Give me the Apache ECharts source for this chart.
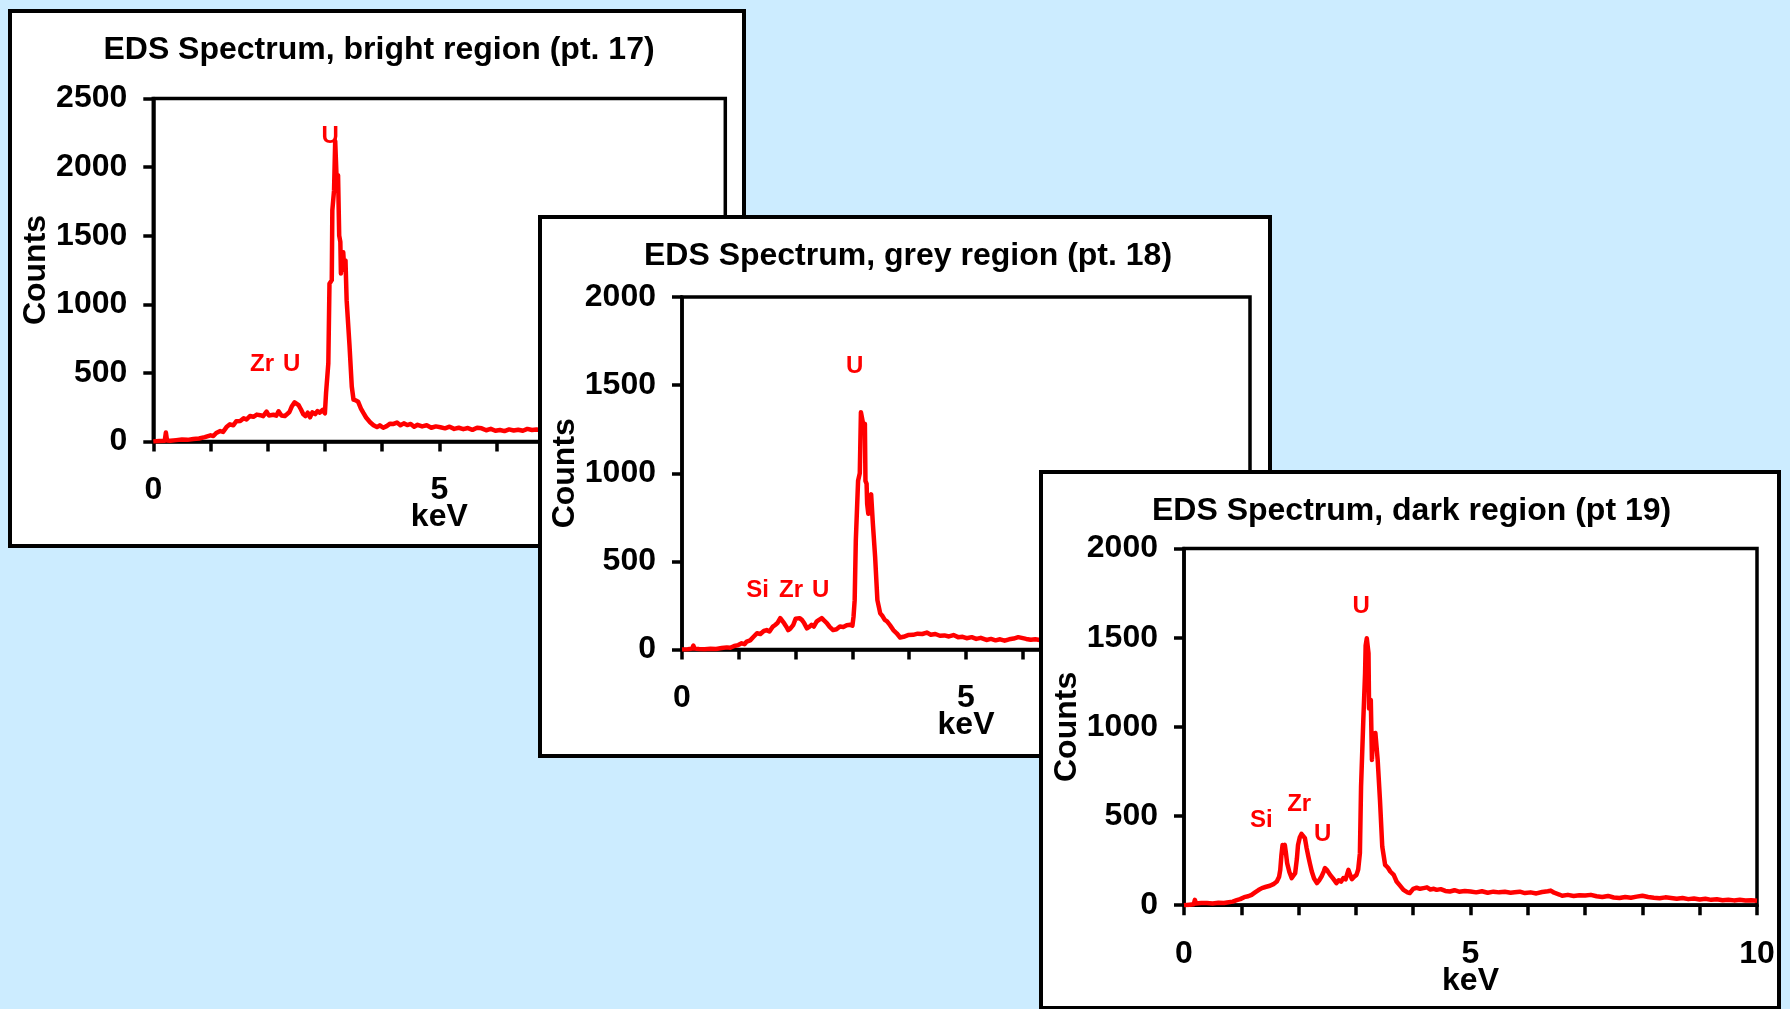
<!DOCTYPE html>
<html>
<head>
<meta charset="utf-8">
<script src="https://cdn.jsdelivr.net/npm/echarts@6/dist/echarts.min.js"></script>
<style>
  html, body { margin: 0; padding: 0; }
  body { width: 1790px; height: 1009px; background: #ccecff; position: relative; overflow: hidden; }
  .panel { position: absolute; box-sizing: border-box; border: 4px solid #000; background: #fff; }
  .chart { width: 100%; height: 100%; }
</style>
</head>
<body>
<div class="panel" style="left:8px;top:9px;width:738px;height:539px;z-index:1"><div id="bright" class="chart"></div></div>
<div class="panel" style="left:538px;top:215px;width:734px;height:543px;z-index:2"><div id="grey" class="chart"></div></div>
<div class="panel" style="left:1039px;top:470px;width:742px;height:540px;z-index:3"><div id="dark" class="chart"></div></div>
<script>
const FONT = '"Liberation Sans", Arial, sans-serif';
const RED = '#ff0000';

const titles = [
  'EDS Spectrum, bright region (pt. 17)',
  'EDS Spectrum, grey region (pt. 18)',
  'EDS Spectrum, dark region (pt 19)'
];
const keVMax = 10;
const keVTickStep = 1;
const keVLabelStep = 5;
const countStep = 500;
const countMax = [2500, 2000, 2000];

// [keV, counts]
const brightSpectrum = [
  [0, 0], [0.1, 3], [0.2, 5], [0.22, 65], [0.24, 8], [0.3, 6], [0.4, 10], [0.5, 14], [0.6, 12],
  [0.7, 18], [0.8, 22], [0.9, 32], [1.0, 45], [1.05, 40], [1.1, 62], [1.17, 76], [1.22, 70],
  [1.28, 105], [1.34, 125], [1.4, 118], [1.45, 148], [1.52, 150], [1.58, 170], [1.63, 160],
  [1.69, 186], [1.75, 180], [1.81, 196], [1.87, 192], [1.92, 185], [1.98, 218], [2.02, 190],
  [2.1, 195], [2.15, 188], [2.19, 220], [2.24, 190], [2.3, 185], [2.33, 178], [2.38, 215],
  [2.42, 255], [2.47, 285], [2.5, 292], [2.54, 265], [2.58, 235], [2.62, 200], [2.66, 185],
  [2.7, 210], [2.74, 176], [2.78, 212], [2.83, 200], [2.87, 222], [2.91, 210], [2.96, 230],
  [3.0, 205], [3.02, 352], [3.06, 570], [3.08, 1150], [3.12, 1176], [3.13, 1685], [3.16, 1830],
  [3.18, 2190], [3.2, 2185], [3.21, 1860], [3.23, 1940], [3.25, 1500], [3.27, 1455], [3.28, 1225],
  [3.3, 1300], [3.32, 1380], [3.34, 1250], [3.36, 1320], [3.38, 1030], [3.43, 700], [3.47, 400],
  [3.5, 305], [3.54, 300], [3.58, 290], [3.63, 240], [3.67, 210], [3.72, 175], [3.79, 140],
  [3.85, 118], [3.91, 105], [3.96, 118], [4.02, 100], [4.08, 112], [4.14, 130], [4.2, 128],
  [4.26, 138], [4.32, 118], [4.38, 132], [4.44, 120], [4.5, 128], [4.56, 108], [4.62, 122],
  [4.7, 110], [4.78, 118], [4.86, 100], [4.94, 110], [5.02, 104], [5.1, 96], [5.18, 108],
  [5.26, 92], [5.34, 100], [5.42, 90], [5.5, 98], [5.58, 85], [5.66, 100], [5.74, 96], [5.82, 82],
  [5.9, 92], [5.98, 78], [6.06, 84], [6.14, 76], [6.22, 88], [6.3, 80], [6.38, 86], [6.46, 78],
  [6.54, 92], [6.62, 84], [6.7, 88], [6.8, 80], [6.9, 85], [7.0, 78]
];

const greySpectrum = [
  [0, 0], [0.1, 2], [0.18, 5], [0.2, 22], [0.22, 5], [0.3, 3], [0.4, 2], [0.5, 4], [0.6, 3],
  [0.7, 8], [0.79, 12], [0.85, 10], [0.92, 20], [0.99, 25], [1.05, 35], [1.1, 30], [1.14, 45],
  [1.2, 52], [1.26, 72], [1.32, 92], [1.38, 88], [1.44, 105], [1.49, 110], [1.54, 102], [1.6, 130],
  [1.64, 139], [1.68, 150], [1.73, 178], [1.76, 165], [1.8, 148], [1.84, 128], [1.87, 110],
  [1.91, 120], [1.96, 140], [2.0, 175], [2.03, 183], [2.07, 178], [2.11, 168], [2.15, 150],
  [2.2, 120], [2.24, 128], [2.28, 140], [2.32, 130], [2.37, 158], [2.42, 170], [2.46, 178],
  [2.5, 165], [2.55, 150], [2.6, 128], [2.66, 110], [2.72, 115], [2.78, 130], [2.84, 128],
  [2.9, 138], [2.96, 140], [3.0, 135], [3.02, 186], [3.04, 280], [3.06, 617], [3.1, 957],
  [3.13, 1000], [3.15, 1346], [3.18, 1356], [3.2, 1262], [3.22, 1280], [3.23, 957], [3.25, 940],
  [3.26, 825], [3.28, 770], [3.3, 864], [3.33, 880], [3.35, 870], [3.36, 716], [3.4, 525],
  [3.44, 280], [3.49, 205], [3.53, 190], [3.57, 168], [3.61, 160], [3.66, 139], [3.72, 110],
  [3.78, 92], [3.84, 68], [3.9, 72], [3.98, 82], [4.07, 83], [4.15, 90], [4.23, 88], [4.31, 96],
  [4.38, 84], [4.46, 88], [4.54, 78], [4.62, 80], [4.7, 74], [4.78, 82], [4.86, 70], [4.94, 72],
  [5.01, 64], [5.1, 70], [5.18, 60], [5.26, 66], [5.36, 54], [5.44, 60], [5.52, 52], [5.6, 58],
  [5.68, 50], [5.76, 58], [5.84, 62], [5.92, 70], [5.98, 66], [6.06, 60], [6.14, 55], [6.22, 58],
  [6.3, 54], [6.4, 50], [6.5, 56], [6.6, 52]
];

const darkSpectrum = [
  [0, 0], [0.1, 3], [0.17, 5], [0.19, 30], [0.21, 10], [0.3, 12], [0.4, 12], [0.5, 10], [0.6, 14],
  [0.7, 12], [0.75, 15], [0.85, 20], [0.92, 28], [0.98, 34], [1.05, 45], [1.12, 50], [1.18, 58],
  [1.24, 72], [1.3, 85], [1.36, 96], [1.42, 102], [1.5, 109], [1.56, 118], [1.62, 133], [1.66, 160],
  [1.68, 198], [1.7, 280], [1.72, 338], [1.74, 320], [1.76, 338], [1.78, 290], [1.8, 236],
  [1.84, 185], [1.88, 152], [1.91, 160], [1.94, 180], [1.97, 260], [1.99, 338], [2.02, 380],
  [2.05, 400], [2.08, 395], [2.11, 376], [2.14, 320], [2.17, 273], [2.2, 230], [2.23, 189],
  [2.27, 150], [2.32, 124], [2.36, 140], [2.4, 161], [2.44, 190], [2.46, 208], [2.5, 195],
  [2.55, 170], [2.6, 150], [2.66, 124], [2.7, 140], [2.74, 132], [2.78, 152], [2.82, 145],
  [2.87, 198], [2.9, 170], [2.93, 146], [2.97, 160], [3.01, 170], [3.04, 200], [3.07, 292],
  [3.09, 665], [3.13, 1045], [3.16, 1300], [3.17, 1456], [3.19, 1497], [3.21, 1495], [3.22, 1413],
  [3.23, 1103], [3.26, 1151], [3.28, 815], [3.3, 965], [3.32, 946], [3.34, 966], [3.36, 890],
  [3.38, 815], [3.42, 591], [3.46, 329], [3.51, 226], [3.56, 210], [3.6, 189], [3.66, 170],
  [3.71, 133], [3.77, 110], [3.83, 86], [3.9, 72], [3.94, 68], [4.0, 92], [4.06, 98], [4.12, 92],
  [4.18, 96], [4.24, 100], [4.3, 88], [4.36, 92], [4.41, 86], [4.48, 90], [4.56, 80], [4.64, 77],
  [4.72, 84], [4.8, 76], [4.9, 80], [5.0, 77], [5.1, 72], [5.2, 78], [5.3, 70], [5.4, 76],
  [5.5, 72], [5.6, 75], [5.7, 70], [5.77, 73], [5.86, 76], [5.95, 68], [6.05, 72], [6.15, 66],
  [6.25, 74], [6.35, 78], [6.4, 82], [6.46, 70], [6.55, 60], [6.6, 53], [6.7, 58], [6.8, 52],
  [6.9, 56], [7.0, 54], [7.1, 58], [7.2, 50], [7.3, 46], [7.4, 52], [7.5, 43], [7.6, 40],
  [7.7, 46], [7.8, 42], [7.9, 48], [8.0, 53], [8.1, 46], [8.2, 42], [8.3, 39], [8.4, 44],
  [8.5, 40], [8.6, 36], [8.7, 40], [8.8, 34], [8.9, 38], [9.0, 32], [9.1, 36], [9.2, 30],
  [9.3, 33], [9.4, 28], [9.5, 31], [9.6, 27], [9.7, 30], [9.8, 26], [9.9, 28], [10.0, 25]
];

// element labels: [text, keV, counts]
const brightPeaks = [['U', 3.09, 2227], ['Zr', 1.90, 559], ['U', 2.42, 559]];
const greyPeaks = [['U', 3.04, 1604], ['Si', 1.33, 333], ['Zr', 1.92, 333], ['U', 2.44, 333]];
const darkPeaks = [['U', 3.09, 1676], ['Si', 1.35, 474], ['Zr', 2.01, 568], ['U', 2.42, 398]];

const panels = [
  { id: 'bright', data: brightSpectrum, peaks: brightPeaks,
    grid: { left: 141.3, top: 85.5, width: 572, height: 343 }, titleX: 367, titleY: 37 },
  { id: 'grey', data: greySpectrum, peaks: greyPeaks,
    grid: { left: 140, top: 78, width: 568, height: 352.5 }, titleX: 366, titleY: 37 },
  { id: 'dark', data: darkSpectrum, peaks: darkPeaks,
    grid: { left: 141, top: 74.6, width: 573, height: 356.6 }, titleX: 368.6, titleY: 37 }
];

const bold = (size) => ({ fontFamily: FONT, fontWeight: 'bold', fontSize: size, color: '#000' });

const buildOption = (p, i) => ({
  animation: false,
  backgroundColor: '#fff',
  title: {
    text: titles[i],
    left: p.titleX,
    top: p.titleY - 16,
    textAlign: 'center',
    padding: 0,
    textStyle: bold(32)
  },
  grid: {
    ...p.grid,
    show: true,
    borderColor: '#000',
    borderWidth: 3.5,
    containLabel: false,
    outerBoundsMode: 'none'
  },
  xAxis: {
    type: 'value',
    min: 0,
    max: keVMax,
    interval: keVTickStep,
    name: 'keV',
    nameLocation: 'middle',
    nameGap: 60,
    nameMoveOverlap: false,
    nameTextStyle: bold(32),
    axisLine: { show: true, onZero: false, lineStyle: { color: '#000', width: 3.5 } },
    axisTick: { show: true, length: 10, lineStyle: { color: '#000', width: 3.5 } },
    axisLabel: {
      ...bold(32),
      margin: 33,
      showMinLabel: true,
      showMaxLabel: true,
      hideOverlap: false,
      formatter: (v) => (v % keVLabelStep === 0 ? String(v) : '')
    },
    splitLine: { show: false }
  },
  yAxis: {
    type: 'value',
    min: 0,
    max: countMax[i],
    interval: countStep,
    name: 'Counts',
    nameLocation: 'middle',
    nameGap: 101,
    nameMoveOverlap: false,
    nameTextStyle: bold(32),
    axisLine: { show: true, lineStyle: { color: '#000', width: 3.5 } },
    axisTick: { show: true, length: 10, lineStyle: { color: '#000', width: 3.5 } },
    axisLabel: {
      ...bold(32),
      margin: 26,
      showMinLabel: true,
      showMaxLabel: true,
      formatter: (v) => String(v)
    },
    splitLine: { show: false }
  },
  series: [{
    type: 'line',
    data: p.data,
    symbol: 'none',
    lineStyle: { color: RED, width: 4.5, join: 'round' },
    itemStyle: { color: RED },
    markPoint: {
      symbol: 'circle',
      symbolSize: 1,
      itemStyle: { color: 'rgba(0,0,0,0)' },
      label: {
        show: true,
        position: 'inside',
        formatter: '{b}',
        fontFamily: FONT,
        fontWeight: 'bold',
        fontSize: 24,
        color: RED
      },
      data: p.peaks.map(([name, x, y]) => ({ name, coord: [x, y] }))
    }
  }]
});

panels.forEach((p, i) => {
  const chart = echarts.init(document.getElementById(p.id), null, { renderer: 'canvas' });
  chart.setOption(buildOption(p, i));
});
</script>
</body>
</html>
